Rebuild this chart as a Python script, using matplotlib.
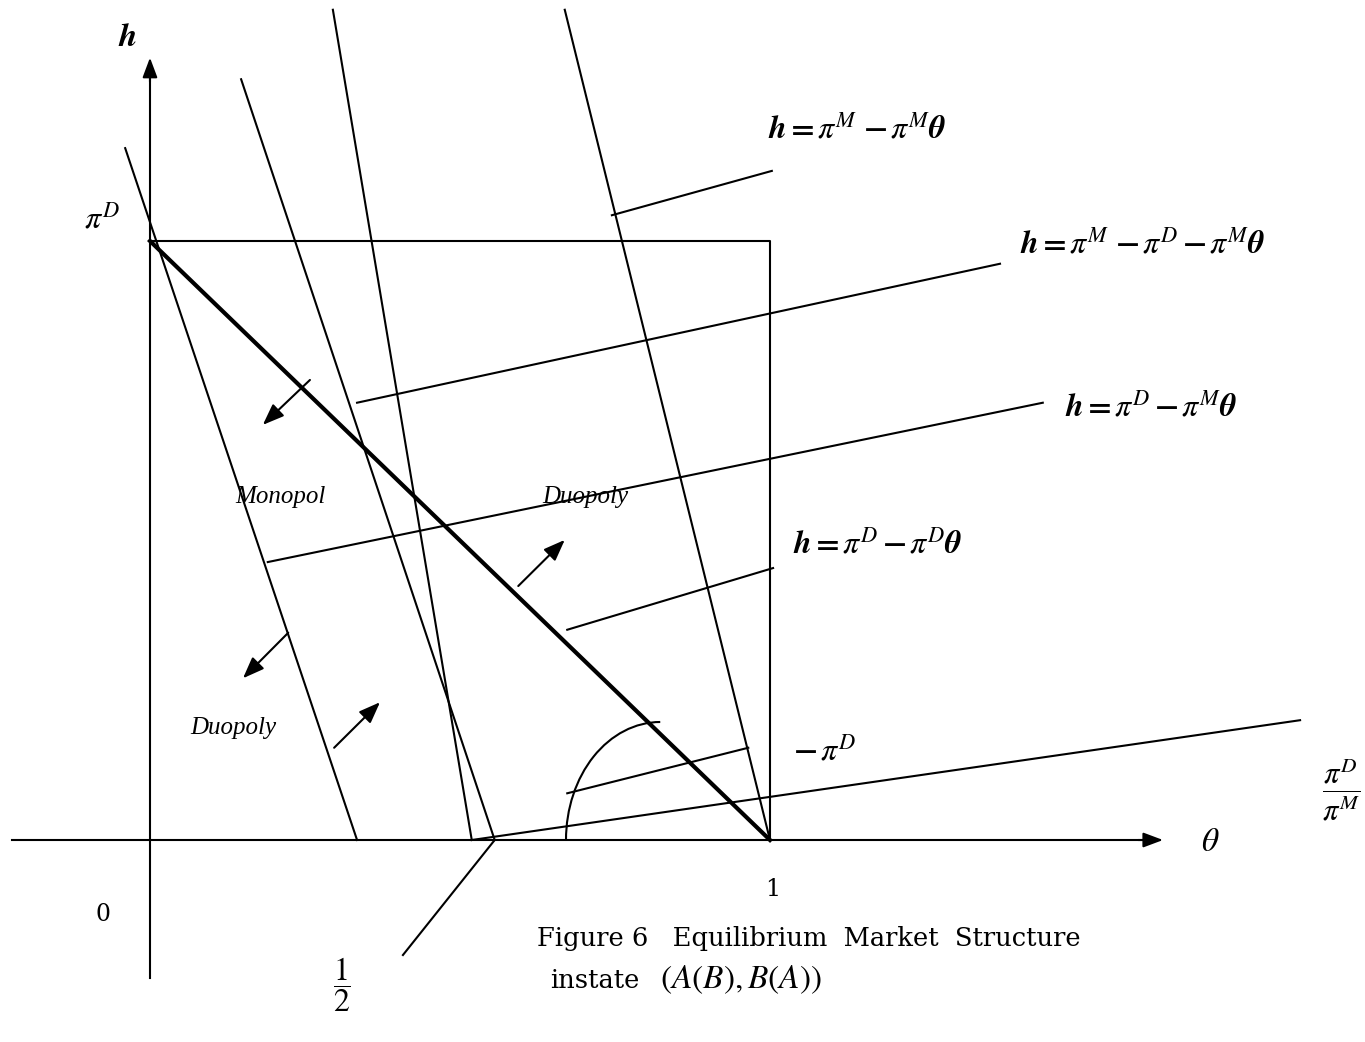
import matplotlib.pyplot as plt
from matplotlib.patches import Arc

plt.rcParams['mathtext.fontset'] = 'stix'
plt.rcParams['font.family'] = ['Liberation Serif', 'DejaVu Serif']

# theta runs along x, h along y, with pi^D scaled to 1
theta_axis = [-0.223, 1.634]
h_axis = [-0.230, 1.306]

# unit box and the thick boundary from (0, pi^D) to (1, 0)
box_theta = [0.0, 1.0, 1.0]
box_h = [1.0, 1.0, 0.0]
boundary_theta = [0.0, 1.0]
boundary_h = [1.0, 0.0]

# steep lines, (theta0, h0, theta1, h1)
steep_lines = [
    (-0.040, 1.155, 0.334, 0.0),
    (0.147, 1.270, 0.556, 0.0),
    (0.295, 1.386, 0.519, 0.0),
    (0.669, 1.386, 1.000, 0.0),
]
# shallow line towards pi^D / pi^M
ratio_line = (0.519, 0.0, 1.855, 0.200)

# pointer lines from each label to its curve
leaders = [
    (0.745, 1.043, 1.003, 1.117),
    (0.334, 0.730, 1.371, 0.962),
    (0.190, 0.464, 1.440, 0.730),
    (0.673, 0.351, 1.005, 0.454),
    (0.673, 0.078, 0.965, 0.154),
    (0.408, -0.192, 0.556, 0.0),
]

# region arrows, tail -> tip
arrows = [
    ((0.258, 0.768), (0.182, 0.693)),
    ((0.594, 0.424), (0.669, 0.501)),
    ((0.223, 0.346), (0.150, 0.270)),
    ((0.297, 0.154), (0.371, 0.230)),
]

# angle mark near theta = 1
arc_center = (0.823, 0.0)
arc_w, arc_h = 0.304, 0.394

curve_labels = [
    (0.997, 1.185, r'$\boldsymbol{h=\pi^{M}\,-\pi^{M}\theta}$'),
    (1.403, 0.993, r'$\boldsymbol{h=\pi^{M}\,-\pi^{D}-\pi^{M}\theta}$'),
    (1.476, 0.721, r'$\boldsymbol{h=\pi^{D}-\pi^{M}\theta}$'),
    (1.037, 0.492, r'$\boldsymbol{h=\pi^{D}-\pi^{D}\theta}$'),
    (1.037, 0.147, r'$\boldsymbol{-\,\pi^{D}}$'),
]
region_labels = [
    (0.137, 0.573, 'Monopol'),
    (0.632, 0.573, 'Duopoly'),
    (0.065, 0.187, 'Duopoly'),
]

fig = plt.figure(figsize=(13.65, 10.42), dpi=100)
ax = fig.add_axes([0, 0, 1, 1])
ax.set_xlim(-0.2419, 1.9597)
ax.set_ylim(-0.3372, 1.4023)
ax.axis('off')

lw = 1.5
# coordinate axes with filled heads
ax.plot([theta_axis[0], theta_axis[1] - 0.03], [0, 0], color='black', lw=lw)
ax.plot([0, 0], [h_axis[0], h_axis[1] - 0.03], color='black', lw=lw)
ax.annotate('', xy=(theta_axis[1], 0), xytext=(theta_axis[1] - 0.04, 0),
            arrowprops=dict(arrowstyle='-|>,head_length=1.2,head_width=0.45',
                            color='black', lw=lw, shrinkA=0, shrinkB=0))
ax.annotate('', xy=(0, h_axis[1]), xytext=(0, h_axis[1] - 0.04),
            arrowprops=dict(arrowstyle='-|>,head_length=1.2,head_width=0.45',
                            color='black', lw=lw, shrinkA=0, shrinkB=0))

ax.plot(box_theta, box_h, color='black', lw=lw)
ax.plot(boundary_theta, boundary_h, color='black', lw=3)

for t0, h0, t1, h1 in steep_lines + [ratio_line] + leaders:
    ax.plot([t0, t1], [h0, h1], color='black', lw=lw)

for tail, tip in arrows:
    ax.annotate('', xy=tip, xytext=tail,
                arrowprops=dict(arrowstyle='-|>,head_length=1.3,head_width=0.5',
                                color='black', lw=lw, shrinkA=0, shrinkB=0))

ax.add_patch(Arc(arc_center, arc_w, arc_h, theta1=90, theta2=180,
                 color='black', lw=lw))

for t, h, s in curve_labels:
    ax.text(t, h, s, fontsize=23, ha='left', va='center')
for t, h, s in region_labels:
    ax.text(t, h, s, fontsize=18, style='italic', ha='left', va='center')

ax.text(-0.037, 1.339, r'$\boldsymbol{h}$', fontsize=24, ha='center', va='center')
ax.text(-0.048, 1.035, r'$\boldsymbol{\pi^{D}}$', fontsize=23, ha='right', va='center')
ax.text(1.710, -0.005, r'$\theta$', fontsize=24, ha='center', va='center')
ax.text(1.921, 0.083, r'$\dfrac{\boldsymbol{\pi^{D}}}{\boldsymbol{\pi^{M}}}$',
        fontsize=22, ha='center', va='center')
ax.text(-0.076, -0.125, '0', fontsize=17, family='DejaVu Serif',
        ha='center', va='center')
ax.text(1.005, -0.083, '1', fontsize=17, family='DejaVu Serif',
        ha='center', va='center')
ax.text(0.310, -0.242, r'$\dfrac{1}{2}$', fontsize=23, ha='center', va='center')
ax.text(0.624, -0.164, 'Figure 6   Equilibrium  Market  Structure',
        fontsize=18.5, family='DejaVu Serif', ha='left', va='center')
ax.text(0.645, -0.234, 'instate', fontsize=18.5, family='DejaVu Serif',
        ha='left', va='center')
ax.text(0.823, -0.234, r'$(A(B),B(A))$', fontsize=24, ha='left', va='center')

fig.savefig('out.png', dpi=100, facecolor='white')
